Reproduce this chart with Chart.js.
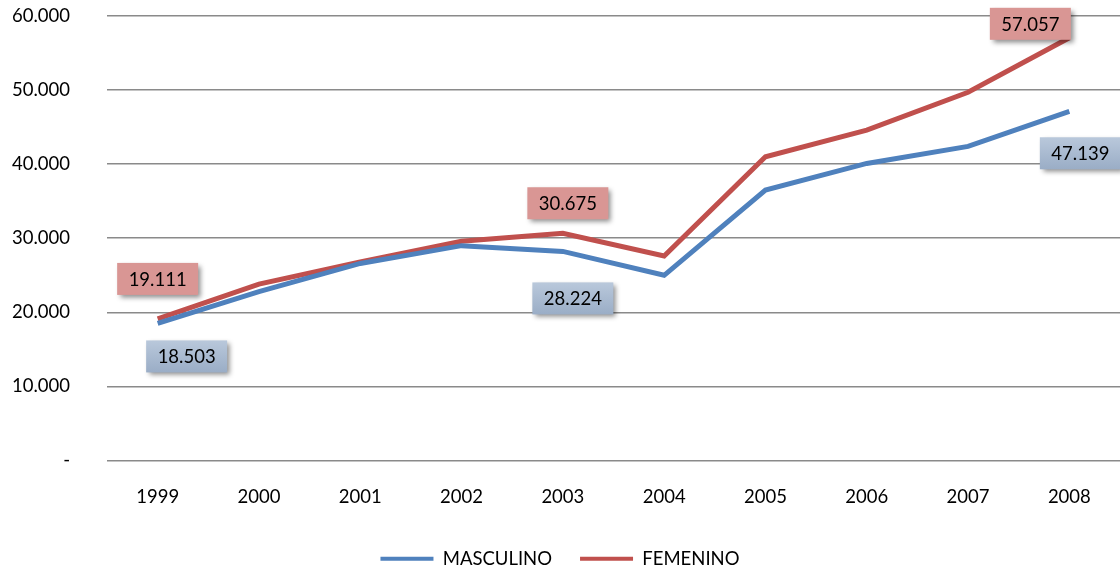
<!DOCTYPE html>
<html>
<head>
<meta charset="utf-8">
<script src="https://cdn.jsdelivr.net/npm/chart.js@4"></script>
<style>
  html, body { margin: 0; padding: 0; background: #fff; }
  #wrap { width: 1120px; height: 571px; }
</style>
</head>
<body>
<div id="wrap"><canvas id="chart"></canvas></div>
<script>
// data
const years = ['1999', '2000', '2001', '2002', '2003', '2004', '2005', '2006', '2007', '2008'];
const masculino = [18503, 22800, 26600, 29000, 28224, 25000, 36500, 40100, 42400, 47139];
const femenino = [19111, 23800, 26800, 29600, 30675, 27600, 41000, 44600, 49700, 57057];
const yTicks = [0, 10000, 20000, 30000, 40000, 50000, 60000];

// which points get a value box, and where the box sits relative to the point
const labelSpots = {
    0: [{ i: 0, dx: 29, dy: 33 }, { i: 4, dx: 10, dy: 47 }, { i: 9, dx: 11, dy: 42 }],
    1: [{ i: 0, dx: 0, dy: -40 }, { i: 4, dx: 5, dy: -30 }, { i: 9, dx: -39, dy: -14 }]
};

const FONT = 'Lato, "Open Sans", sans-serif';

function fmt(v) {
    if (v === 0) return '-';
    return v.toString().replace(/\B(?=(\d{3})+(?!\d))/g, '.');
}

const valueBoxes = {
    id: 'valueBoxes',
    afterDatasetsDraw(chart) {
        const ctx = chart.ctx;
        Object.keys(labelSpots).forEach(dsIndex => {
            const meta = chart.getDatasetMeta(dsIndex);
            labelSpots[dsIndex].forEach(spot => {
                const pt = meta.data[spot.i];
                const v = chart.data.datasets[dsIndex].data[spot.i];
                const cx = pt.x + spot.dx, cy = pt.y + spot.dy;
                const w = 81, h = 32;
                ctx.save();
                ctx.shadowColor = 'rgba(0,0,0,0.45)';
                ctx.shadowBlur = 5;
                ctx.shadowOffsetX = 3;
                ctx.shadowOffsetY = 3;
                if (dsIndex === '0') {
                    const g = ctx.createLinearGradient(0, cy - h / 2, 0, cy + h / 2);
                    g.addColorStop(0, '#b9c8db');
                    g.addColorStop(1, '#9aadc6');
                    ctx.fillStyle = g;
                } else {
                    ctx.fillStyle = '#d99694';
                }
                ctx.fillRect(cx - w / 2, cy - h / 2, w, h);
                ctx.restore();
                ctx.save();
                ctx.fillStyle = '#000';
                ctx.font = '18.5px ' + FONT;
                ctx.textAlign = 'center';
                ctx.textBaseline = 'middle';
                ctx.fillText(fmt(v), cx, cy + 1);
                ctx.restore();
            });
        });
    }
};

const ctx = document.getElementById('chart').getContext('2d');
const chart = new Chart(ctx, {
    type: 'line',
    data: {
        labels: years,
        datasets: [
            {
                label: 'MASCULINO',
                data: masculino,
                borderColor: '#4f81bd',
                backgroundColor: '#4f81bd',
                borderWidth: 5,
                pointRadius: 0,
                tension: 0
            },
            {
                label: 'FEMENINO',
                data: femenino,
                borderColor: '#c0504d',
                backgroundColor: '#c0504d',
                borderWidth: 5,
                pointRadius: 0,
                tension: 0
            }
        ]
    },
    options: {
        responsive: true,
        maintainAspectRatio: false,
        animation: false,
        // negative bottom padding lets the legend sit lower while keeping wide item gaps
        layout: { padding: { top: 16, right: 0, left: 0, bottom: -7 } },
        plugins: {
            tooltip: { enabled: false },
            legend: {
                position: 'bottom',
                labels: {
                    font: { family: FONT, size: 18.5 },
                    color: '#000',
                    boxWidth: 53,
                    boxHeight: 4,
                    padding: 28,
                    generateLabels: function(chart) {
                        return chart.data.datasets.map((ds, i) => ({
                            text: ds.label,
                            fillStyle: ds.borderColor,
                            strokeStyle: ds.borderColor,
                            lineWidth: 0,
                            fontColor: '#000',
                            datasetIndex: i
                        }));
                    }
                }
            }
        },
        scales: {
            x: {
                offset: true,
                grid: { display: false, drawTicks: false },
                border: { display: false },
                ticks: {
                    color: '#000',
                    padding: 25,
                    font: { family: FONT, size: 18.5 }
                },
                afterFit: function(scale) { scale.height = 61; }
            },
            y: {
                min: 0,
                max: 60000,
                afterBuildTicks: function(scale) {
                    scale.ticks = yTicks.map(v => ({ value: v }));
                },
                grid: { color: '#8a8a8a', lineWidth: 1.6, drawTicks: false },
                border: { display: false },
                ticks: {
                    color: '#000',
                    padding: 37,
                    font: { family: FONT, size: 18.5 },
                    callback: function(v) { return fmt(v); }
                },
                afterFit: function(scale) {
                    scale.width = 107;
                    scale.paddingTop = 0;
                    scale.paddingBottom = 0;
                }
            }
        }
    },
    plugins: [valueBoxes]
});
</script>
</body>
</html>
